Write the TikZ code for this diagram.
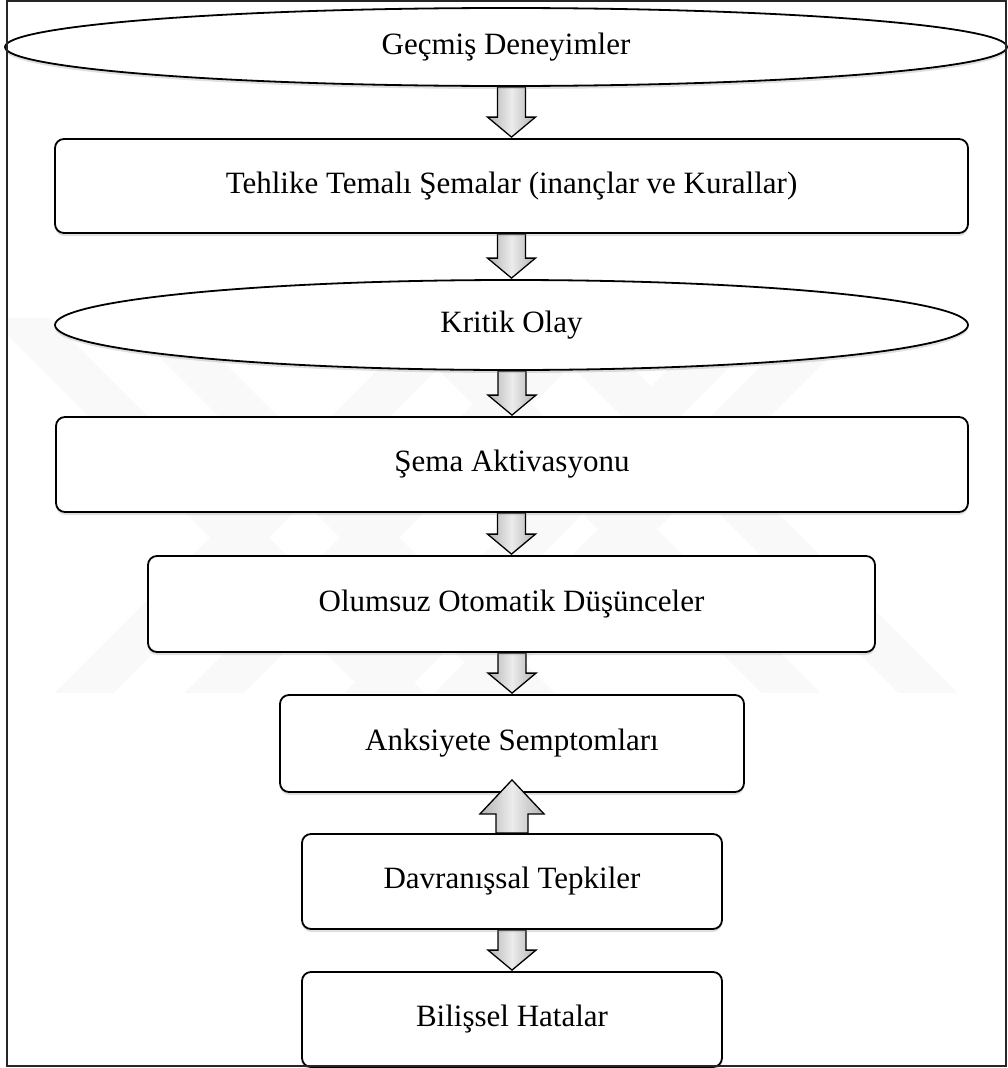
\documentclass[tikz,border=0pt]{standalone}
\usepackage{fontspec}
\setmainfont{Liberation Serif}
\usetikzlibrary{shapes.geometric,shadows,calc}
\pgfdeclarelayer{wm}\pgfdeclarelayer{bg}\pgfsetlayers{wm,bg,main}
\newcommand\blkdown[2]{%
  \path[blockarrow] let \p1=(#1.south), \p2=(#2.north) in
  (\x2-14pt,\y1) -- (\x2+14pt,\y1) -- (\x2+14pt,\y2+21pt) -- (\x2+24pt,\y2+21pt)
  -- (\x2,\y2+1pt) -- (\x2-24pt,\y2+21pt) -- (\x2-14pt,\y2+21pt) -- cycle;}
\newcommand\blkup[2]{%
  \path[blockarrow] let \p1=(#1.north), \p2=(#2.south) in
  (\x1-16pt,\y1) -- (\x1+16pt,\y1) -- (\x1+16pt,\y2-21pt) -- (\x1+32pt,\y2-21pt)
  -- (\x1,\y2+13pt) -- (\x1-32pt,\y2-21pt) -- (\x1-16pt,\y2-21pt) -- cycle;}
\begin{document}
\begin{tikzpicture}[x=1pt,y=-1pt,
  txt/.style={font=\fontsize{31}{36}\selectfont, text=black},
  shad/.style={drop shadow={shadow xshift=0pt,shadow yshift=-3pt,opacity=0.25,fill=gray}},
  box/.style={txt,shad,draw=black,line width=1.8pt,rounded corners=9pt,fill=white,inner sep=0pt},
  oval/.style={txt,shad,ellipse,draw=black,line width=1.8pt,fill=white,inner sep=0pt},
  blockarrow/.style={draw=black,line width=1.3pt,line join=miter,
    left color=gray!60,right color=gray!60,middle color=gray!15},
  wmark/.style={line width=42pt,draw=gray!5,line cap=butt}]
\useasboundingbox (0,0) rectangle (1008,1068);
% watermark
\begin{pgfonlayer}{wm}
\begin{scope}
\clip (8,318) rectangle (1000,692);
\draw[wmark] (0,298) -- (414,712);
\draw[wmark] (130,298) -- (544,712);
\draw[wmark] (396,298) -- (810,712);
\draw[wmark] (533,298) -- (947,712);
\draw[wmark] (65,712) -- (479,298);
\draw[wmark] (195,712) -- (609,298);
\draw[wmark] (355,712) -- (769,298);
\draw[wmark] (445,712) -- (859,298);
\end{scope}
\end{pgfonlayer}
% nodes
\node[oval,minimum width=1002pt,minimum height=78pt] (e1) at (506,47) {Geçmiş Deneyimler};
\node[box,minimum width=913pt,minimum height=94pt] (b1) at (511.5,186) {Tehlike Temalı Şemalar (inançlar ve Kurallar)};
\node[oval,minimum width=913pt,minimum height=90pt] (e2) at (511.5,325) {Kritik Olay};
\node[box,minimum width=912pt,minimum height=95pt] (b2) at (512,464.5) {Şema Aktivasyonu};
\node[box,minimum width=727pt,minimum height=96pt] (b3) at (511.5,604) {Olumsuz Otomatik Düşünceler};
\node[box,minimum width=464pt,minimum height=97pt] (b4) at (512,743.5) {Anksiyete Semptomları};
\node[box,minimum width=420pt,minimum height=95pt] (b5) at (512,881.5) {Davranışsal Tepkiler};
\node[box,minimum width=420pt,minimum height=95pt] (b6) at (512,1019.5) {Bilişsel Hatalar};
% arrows
\begin{pgfonlayer}{bg}
\blkdown{e1}{b1}
\blkdown{b1}{e2}
\blkdown{e2}{b2}
\blkdown{b2}{b3}
\blkdown{b3}{b4}
\blkdown{b5}{b6}
\end{pgfonlayer}
\blkup{b5}{b4}
% frame
\draw[line width=1.5pt,black!85] (7,1) rectangle (1006,1066);
\end{tikzpicture}
\end{document}
